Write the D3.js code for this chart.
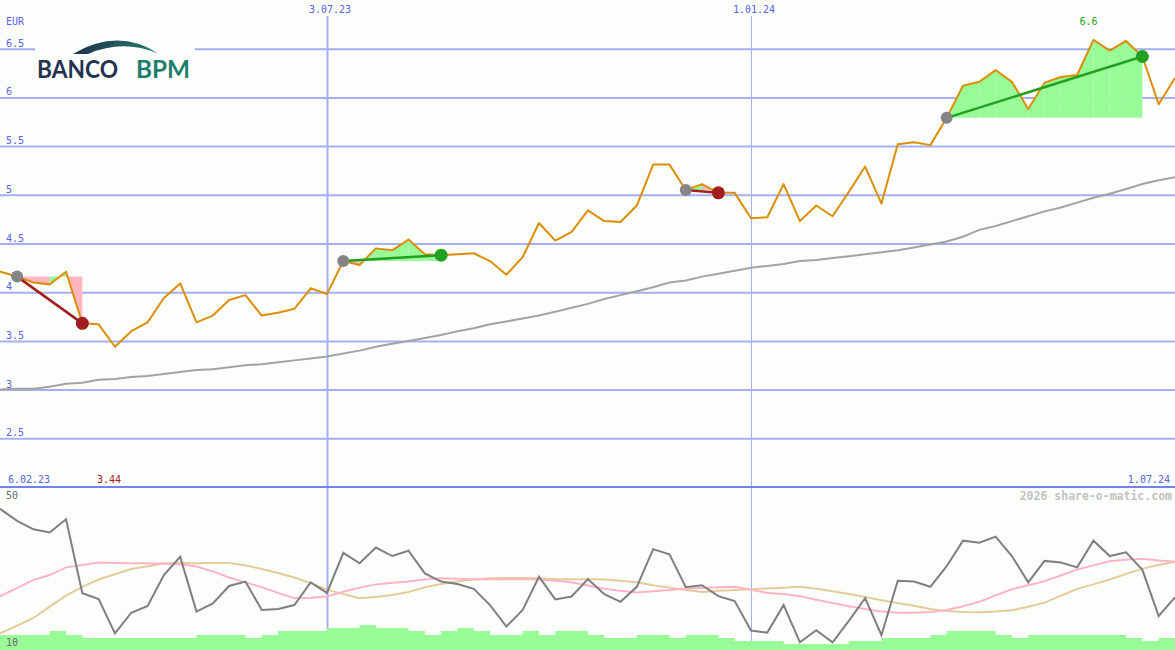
<!DOCTYPE html>
<html>
<head>
<meta charset="utf-8">
<script src="https://cdn.jsdelivr.net/npm/d3@7"></script>
<style>
  html, body { margin: 0; padding: 0; background: #fcfefc; }
  svg { display: block; }
</style>
</head>
<body>
<div id="chart"></div>
<script>
// weekly closes, Monday dates from startDate to endDate
const startDate = "2023-02-06";
const endDate = "2024-07-01";

const closes = [
  4.23, 4.21, 4.16, 4.10, 4.08, 4.21, 3.68, 3.67, 3.44, 3.60,
  3.69, 3.94, 4.09, 3.69, 3.76, 3.92, 3.97, 3.76, 3.79, 3.83,
  4.04, 3.98, 4.32, 4.28, 4.45, 4.43, 4.54, 4.39, 4.38, 4.39,
  4.40, 4.32, 4.18, 4.36, 4.71, 4.53, 4.62, 4.84, 4.73, 4.72,
  4.89, 5.31, 5.31, 5.05, 5.11, 5.02, 5.02, 4.76, 4.77, 5.11,
  4.73, 4.89, 4.78, 5.03, 5.29, 4.91, 5.52, 5.54, 5.51, 5.79,
  6.12, 6.16, 6.28, 6.16, 5.88, 6.15, 6.21, 6.23, 6.59, 6.48,
  6.58, 6.42, 5.93, 6.20
];

const trend = [
  2.99, 3.00, 3.01, 3.01, 3.03, 3.06, 3.07, 3.10, 3.11, 3.13,
  3.14, 3.16, 3.18, 3.20, 3.21, 3.23, 3.25, 3.26, 3.28, 3.30,
  3.32, 3.34, 3.37, 3.40, 3.44, 3.47, 3.50, 3.53, 3.56, 3.60,
  3.63, 3.67, 3.70, 3.73, 3.76, 3.80, 3.84, 3.88, 3.93, 3.97,
  4.01, 4.05, 4.10, 4.12, 4.16, 4.19, 4.22, 4.25, 4.27, 4.29,
  4.32, 4.33, 4.35, 4.37, 4.39, 4.41, 4.43, 4.46, 4.49, 4.52,
  4.57, 4.64, 4.68, 4.73, 4.78, 4.83, 4.87, 4.92, 4.97, 5.01,
  5.06, 5.11, 5.15, 5.18
];

const oscillator = [
  46.3, 44.7, 41.9, 39.8, 39.0, 42.3, 24.0, 22.6, 14.1, 19.2,
  20.9, 28.5, 33.0, 19.5, 21.5, 25.8, 26.9, 19.9, 20.1, 21.1,
  26.7, 24.1, 34.0, 31.4, 35.3, 33.2, 34.5, 28.9, 26.9, 26.3,
  25.1, 21.1, 15.8, 19.9, 28.1, 22.5, 23.2, 27.5, 23.8, 21.9,
  25.6, 34.9, 33.6, 25.5, 26.0, 23.3, 22.1, 14.8, 14.3, 21.1,
  11.9, 14.9, 11.9, 17.2, 22.8, 13.7, 27.1, 26.9, 25.6, 30.7,
  37.0, 36.5, 38.0, 33.2, 26.7, 32.0, 31.6, 30.4, 37.0, 33.2,
  34.1, 29.8, 18.4, 23.0
];

const oscFast = [
  21.6, 23.4, 25.3, 27.3, 28.5, 30.4, 31.0, 31.6, 31.5, 31.4,
  31.4, 31.3, 31.2, 30.6, 29.4, 27.9, 26.7, 25.5, 24.1, 22.8,
  22.9, 23.2, 24.4, 25.4, 26.2, 26.6, 26.9, 27.4, 27.7, 27.6,
  27.5, 27.5, 27.5, 27.5, 27.4, 27.1, 26.7, 25.9, 25.1, 24.6,
  24.2, 24.5, 24.8, 25.1, 25.3, 25.5, 25.6, 24.9, 24.1, 23.8,
  23.3, 22.4, 21.6, 20.8, 20.1, 19.5, 19.2, 19.2, 19.4, 19.9,
  20.8, 21.9, 23.5, 25.0, 26.0, 27.0, 28.4, 29.9, 30.9, 31.9,
  32.3, 32.5, 32.1, 31.8
];

const oscSlow = [
  12.5, 14.2, 16.0, 17.9, 20.7, 23.4, 25.6, 27.4, 28.7, 30.0,
  30.7, 31.4, 31.5, 31.4, 31.5, 31.5, 30.9, 30.0, 29.0, 27.9,
  26.5, 24.9, 23.8, 22.8, 23.1, 23.6, 24.3, 25.5, 26.3, 26.9,
  27.4, 27.7, 27.8, 27.8, 27.7, 27.5, 27.5, 27.5, 27.4, 27.1,
  26.7, 26.0, 25.4, 24.8, 24.3, 24.6, 24.8, 25.0, 25.2, 25.4,
  25.6, 25.1, 24.5, 23.8, 23.1, 22.3, 21.6, 20.9, 20.1, 19.6,
  19.4, 19.3, 19.5, 19.8, 20.7, 21.7, 23.4, 25.1, 26.2, 27.4,
  28.8, 30.1, 31.0, 31.8
];

const volume = [
  15, 15, 15, 15, 19, 15, 12, 12, 12, 12,
  12, 12, 12, 15, 15, 15, 12, 15, 19, 19,
  19, 22, 22, 25, 22, 22, 19, 15, 19, 22,
  19, 15, 15, 19, 15, 19, 19, 15, 12, 12,
  15, 15, 12, 15, 15, 12, 9, 9, 9, 6,
  6, 6, 6, 9, 9, 12, 12, 12, 15, 19,
  19, 19, 15, 12, 15, 15, 15, 15, 15, 15,
  12, 9, 12, 12
];

const trades = [
  { buy: "2023-02-20", sell: "2023-03-20" },
  { buy: "2023-07-10", sell: "2023-08-21" },
  { buy: "2023-12-04", sell: "2023-12-18" },
  { buy: "2024-03-25", sell: "2024-06-17" }
];

const priceTicks = [2.5, 3, 3.5, 4, 4.5, 5, 5.5, 6, 6.5];
const dateMarks = ["2023-07-03", "2024-01-01"];
const priceLow = 3.44;
const priceHigh = 6.6;
const oscTicks = [50, 10];
const currency = "EUR";

const width = 1175;
const height = 650;
const mainBottom = 487;
const lowerTop = 488;

const labelFont = "'DejaVu Sans Mono', monospace";
const labelSize = 10;
const blueText = "#5462ec";
const gridColor = "#a6aff2";
const green = "#22a022";
const darkRed = "#a21d1d";
const bg = "#fcfefc";

const parse = d3.utcParse("%Y-%m-%d");
const fmtDate = d3.utcFormat("%-d.%m.%y");

const dates = d3.utcMonday.range(parse(startDate), d3.utcDay.offset(parse(endDate), 1));
const rows = dates.map((date, i) => ({
  date,
  close: closes[i],
  trend: trend[i],
  osc: oscillator[i],
  fast: oscFast[i],
  slow: oscSlow[i],
  vol: volume[i]
}));
const indexOf = (s) => d3.bisector((d) => d.date).left(rows, parse(s));

const x = d3.scaleUtc()
  .domain([parse(startDate), parse(endDate)])
  .range([-15.5, width]);

const y = d3.scaleLinear().domain([2, 7]).range([mainBottom, 0]);
const yOsc = d3.scaleLinear().domain([10, 50]).range([height, lowerTop]);
const yVol = d3.scaleLinear().domain([0, 50]).range([height, height - 50]);

const svg = d3.create("svg")
  .attr("viewBox", [0, 0, width, height])
  .attr("width", width)
  .attr("height", height);

svg.append("rect")
  .attr("width", width)
  .attr("height", height)
  .attr("fill", bg);

const defs = svg.append("defs");
defs.append("clipPath").attr("id", "clip-main")
  .append("rect").attr("x", 0).attr("y", 0).attr("width", width).attr("height", mainBottom);
defs.append("clipPath").attr("id", "clip-low")
  .append("rect").attr("x", 0).attr("y", lowerTop).attr("width", width).attr("height", height - lowerTop);

const grad = defs.append("linearGradient")
  .attr("id", "swoosh")
  .attr("x1", "0%").attr("x2", "100%");
grad.append("stop").attr("offset", "0%").attr("stop-color", "#22304f");
grad.append("stop").attr("offset", "100%").attr("stop-color", "#1f7f6d");

// horizontal grid
svg.append("g")
  .selectAll("line")
  .data(priceTicks)
  .join("line")
  .attr("x1", 0)
  .attr("x2", width)
  .attr("y1", (d) => y(d) + 0.5)
  .attr("y2", (d) => y(d) + 0.5)
  .attr("stroke", gridColor)
  .attr("stroke-width", 2);

// vertical date marks
svg.append("g")
  .selectAll("line")
  .data(dateMarks)
  .join("line")
  .attr("x1", (d) => Math.round(x(parse(d))) + 0.5)
  .attr("x2", (d) => Math.round(x(parse(d))) + 0.5)
  .attr("y1", 16)
  .attr("y2", height)
  .attr("stroke", gridColor)
  .attr("stroke-width", (d, i) => (i === 0 ? 2 : 1));

svg.append("g")
  .selectAll("text")
  .data(dateMarks)
  .join("text")
  .attr("x", (d) => x(parse(d)) + 3)
  .attr("y", 13)
  .attr("text-anchor", "middle")
  .attr("font-family", labelFont)
  .attr("font-size", labelSize)
  .attr("fill", blueText)
  .text((d) => fmtDate(parse(d)));

// logo
const logo = svg.append("g");
logo.append("rect")
  .attr("x", 35)
  .attr("y", 30)
  .attr("width", 160)
  .attr("height", 60)
  .attr("fill", bg);
logo.append("path")
  .attr("d", "M73,54 Q118,27.5 158,53.5 Q123,39 88,54 Z")
  .attr("fill", "url(#swoosh)");
logo.append("text")
  .attr("x", 37)
  .attr("y", 77.5)
  .attr("font-family", "Lato, 'Open Sans', sans-serif")
  .attr("font-weight", 700)
  .attr("font-size", 25)
  .attr("textLength", 81)
  .attr("lengthAdjust", "spacingAndGlyphs")
  .attr("fill", "#263350")
  .text("BANCO");
logo.append("text")
  .attr("x", 136)
  .attr("y", 77.5)
  .attr("font-family", "Lato, 'Open Sans', sans-serif")
  .attr("font-weight", 700)
  .attr("font-size", 25)
  .attr("textLength", 54)
  .attr("lengthAdjust", "spacingAndGlyphs")
  .attr("fill", "#1f7d6b")
  .text("BPM");

// y tick labels
svg.append("g")
  .selectAll("text")
  .data(priceTicks)
  .join("text")
  .attr("x", 6)
  .attr("y", (d) => y(d) - 2)
  .attr("font-family", labelFont)
  .attr("font-size", labelSize)
  .attr("fill", blueText)
  .text((d) => d3.format("")(d));

svg.append("text")
  .attr("x", 6)
  .attr("y", 25)
  .attr("font-family", labelFont)
  .attr("font-size", labelSize)
  .attr("fill", blueText)
  .text(currency);

// main panel
const main = svg.append("g").attr("clip-path", "url(#clip-main)");

trades.forEach((t) => {
  const a = indexOf(t.buy);
  const b = indexOf(t.sell);
  const entry = rows[a].close;
  const segs = d3.range(a, b).map((k) => ({ p: rows[k], q: rows[k + 1] }));
  main.append("g")
    .selectAll("path")
    .data(segs)
    .join("path")
    .attr("fill", (s) => (s.q.close >= entry ? "#98fb98" : "#ffb6c1"))
    .attr("d", (s) => {
      const x0 = x(s.p.date);
      const x1 = x(s.q.date);
      return `M${x0},${y(entry)}L${x0},${y(s.p.close)}L${x1},${y(s.q.close)}L${x1},${y(entry)}Z`;
    });
});

main.append("path")
  .datum(rows)
  .attr("fill", "none")
  .attr("stroke", "#a3a3a3")
  .attr("stroke-width", 2)
  .attr("d", d3.line().x((d) => x(d.date)).y((d) => y(d.trend)));

main.append("path")
  .datum(rows)
  .attr("fill", "none")
  .attr("stroke", "#dc8e08")
  .attr("stroke-width", 2)
  .attr("stroke-linejoin", "round")
  .attr("d", d3.line().x((d) => x(d.date)).y((d) => y(d.close)));

trades.forEach((t) => {
  const p = rows[indexOf(t.buy)];
  const q = rows[indexOf(t.sell)];
  const c = q.close > p.close ? green : darkRed;
  main.append("line")
    .attr("x1", x(p.date))
    .attr("y1", y(p.close))
    .attr("x2", x(q.date))
    .attr("y2", y(q.close))
    .attr("stroke", c)
    .attr("stroke-width", 2.5);
  main.append("circle")
    .attr("cx", x(p.date))
    .attr("cy", y(p.close))
    .attr("r", 6)
    .attr("fill", "#858585");
  main.append("circle")
    .attr("cx", x(q.date))
    .attr("cy", y(q.close))
    .attr("r", 6.5)
    .attr("fill", c);
});

// extremes
const lowRow = rows[d3.minIndex(rows, (d) => d.close)];
const highRow = rows[d3.maxIndex(rows, (d) => d.close)];
svg.append("text")
  .attr("x", x(lowRow.date) - 6)
  .attr("y", 483)
  .attr("text-anchor", "middle")
  .attr("font-family", labelFont)
  .attr("font-size", labelSize)
  .attr("fill", darkRed)
  .text(d3.format("~g")(priceLow));
svg.append("text")
  .attr("x", x(highRow.date) - 5)
  .attr("y", 25)
  .attr("text-anchor", "middle")
  .attr("font-family", labelFont)
  .attr("font-size", labelSize)
  .attr("fill", green)
  .text(d3.format("~g")(priceHigh));

// first / last date
svg.append("text")
  .attr("x", 8)
  .attr("y", 483)
  .attr("font-family", labelFont)
  .attr("font-size", labelSize)
  .attr("fill", blueText)
  .text(fmtDate(parse(startDate)));
svg.append("text")
  .attr("x", 1170)
  .attr("y", 483)
  .attr("text-anchor", "end")
  .attr("font-family", labelFont)
  .attr("font-size", labelSize)
  .attr("fill", blueText)
  .text(fmtDate(parse(endDate)));

// separator
svg.append("line")
  .attr("x1", 0)
  .attr("x2", width)
  .attr("y1", mainBottom)
  .attr("y2", mainBottom)
  .attr("stroke", "#7383ee")
  .attr("stroke-width", 2);

// lower panel
const low = svg.append("g").attr("clip-path", "url(#clip-low)");

low.append("path")
  .datum(rows)
  .attr("fill", "#98fb98")
  .attr("d", d3.area()
    .curve(d3.curveStepAfter)
    .x((d) => x(d.date))
    .y0(yVol(0))
    .y1((d) => yVol(d.vol)));

[
  ["slow", "#e6cb9a"],
  ["fast", "#ffb4c6"],
  ["osc", "#7f7f7f"]
].forEach(([key, color]) => {
  low.append("path")
    .datum(rows)
    .attr("fill", "none")
    .attr("stroke", color)
    .attr("stroke-width", 2)
    .attr("d", d3.line().x((d) => x(d.date)).y((d) => yOsc(d[key])));
});

svg.append("g")
  .selectAll("text")
  .data(oscTicks)
  .join("text")
  .attr("x", 6)
  .attr("y", (d, i) => (i === 0 ? 499 : 646))
  .attr("font-family", labelFont)
  .attr("font-size", labelSize)
  .attr("fill", "#6a6a6a")
  .text((d) => d);

svg.append("text")
  .attr("x", 1172)
  .attr("y", 500)
  .attr("text-anchor", "end")
  .attr("font-family", labelFont)
  .attr("font-size", 11.5)
  .attr("font-weight", "bold")
  .attr("fill", "#c2c2c2")
  .text("2026 share-o-matic.com");

document.querySelector("#chart").appendChild(svg.node());
</script>
</body>
</html>
